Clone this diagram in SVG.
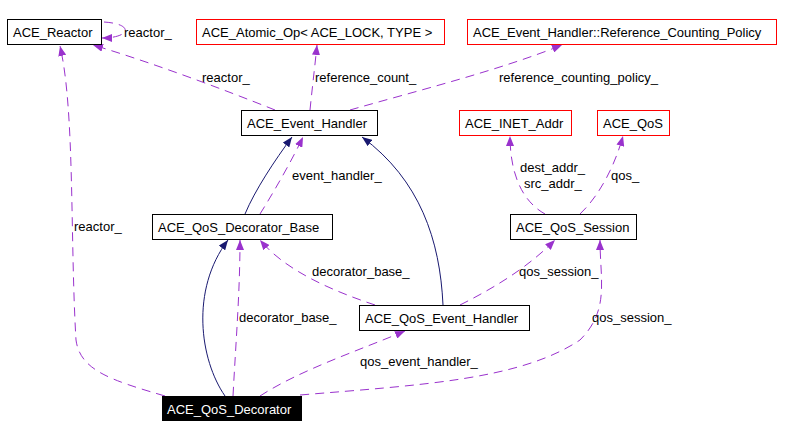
<svg xmlns="http://www.w3.org/2000/svg" width="792" height="438" viewBox="0 0 792 438">
<style>
text{font-family:"Liberation Sans",Arial,sans-serif;font-size:13px;fill:#000}
.n{fill:#fff;stroke:#000;stroke-width:1}
.r{fill:#fff;stroke:#f00;stroke-width:1}
.s{fill:none;stroke:#191970;stroke-width:1}
.d{fill:none;stroke:#9a32cd;stroke-width:1;stroke-dasharray:9,6}
</style>
<defs>
<marker id="an" viewBox="0 0 10 8" refX="10" refY="4" markerWidth="10" markerHeight="8" markerUnits="userSpaceOnUse" orient="auto"><path d="M0,0L10,4L0,8z" fill="#191970"/></marker>
<marker id="ap" viewBox="0 0 10 8" refX="10" refY="4" markerWidth="10" markerHeight="8" markerUnits="userSpaceOnUse" orient="auto"><path d="M0,0L10,4L0,8z" fill="#9a32cd"/></marker>
</defs>
<g id="edges">
<path class="d" marker-end="url(#ap)" d="M104,22 C135,24 130,38 102,38"/>
<text x="124" y="37">reactor_</text>
<path class="d" marker-end="url(#ap)" d="M275,110 C220,88 150,62 93,45"/>
<text x="202" y="82">reactor_</text>
<path class="d" marker-end="url(#ap)" d="M310,110 C312,90 315,65 317,45"/>
<text x="315" y="82">reference_count_</text>
<path class="d" marker-end="url(#ap)" d="M350,110 C420,90 500,70 562,45"/>
<text x="499" y="82">reference_counting_policy_</text>
<path class="s" marker-end="url(#an)" d="M245,214 C255,190 275,160 292,137"/>
<path class="d" marker-end="url(#ap)" d="M260,214 C275,190 292,160 303,137"/>
<text x="292" y="180">event_handler_</text>
<path class="s" marker-end="url(#an)" d="M443,305 C440,240 420,180 362,137"/>
<path class="d" marker-end="url(#ap)" d="M545,214 C520,200 510,170 510,136"/>
<text x="520" y="172">dest_addr_</text>
<text x="524" y="188">src_addr_</text>
<path class="d" marker-end="url(#ap)" d="M580,214 C600,195 615,165 623,136"/>
<text x="611" y="180">qos_</text>
<path class="d" marker-end="url(#ap)" d="M375,305 C330,290 285,270 260,240"/>
<text x="312" y="276">decorator_base_</text>
<path class="d" marker-end="url(#ap)" d="M460,305 C500,285 530,265 555,240"/>
<text x="519" y="276">qos_session_</text>
<path class="s" marker-end="url(#an)" d="M225,396 C200,360 190,290 228,240"/>
<path class="d" marker-end="url(#ap)" d="M233,396 C236,340 240,290 240,240"/>
<text x="239" y="322">decorator_base_</text>
<path class="d" marker-end="url(#ap)" d="M260,396 C300,370 360,350 405,331"/>
<text x="360" y="366">qos_event_handler_</text>
<path class="d" marker-end="url(#ap)" d="M300,395 C420,385 520,380 580,340 C610,310 600,280 600,240"/>
<text x="592" y="322">qos_session_</text>
<path class="d" marker-end="url(#ap)" d="M165,396 C110,380 80,370 76,340 C70,240 75,110 60,46"/>
<text x="74" y="231">reactor_</text>
</g>
<g id="ACE_Reactor"><rect class="n" x="7.5" y="19.5" width="94" height="25"/><text x="13" y="37">ACE_Reactor</text></g>
<g id="ACE_Atomic_Op"><rect class="r" x="196.5" y="19.5" width="248" height="25"/><text x="202" y="37">ACE_Atomic_Op&lt; ACE_LOCK, TYPE &gt;</text></g>
<g id="RCP"><rect class="r" x="467.5" y="19.5" width="309" height="25"/><text x="473" y="37">ACE_Event_Handler::Reference_Counting_Policy</text></g>
<g id="ACE_Event_Handler"><rect class="n" x="241.5" y="110.5" width="136" height="25"/><text x="247" y="128">ACE_Event_Handler</text></g>
<g id="ACE_INET_Addr"><rect class="r" x="459.5" y="110.5" width="112" height="25"/><text x="465" y="128">ACE_INET_Addr</text></g>
<g id="ACE_QoS"><rect class="r" x="597.5" y="110.5" width="72" height="25"/><text x="603" y="128">ACE_QoS</text></g>
<g id="ACE_QoS_Decorator_Base"><rect class="n" x="152.5" y="214.5" width="180" height="25"/><text x="158" y="232">ACE_QoS_Decorator_Base</text></g>
<g id="ACE_QoS_Session"><rect class="n" x="510.5" y="214.5" width="126" height="25"/><text x="516" y="232">ACE_QoS_Session</text></g>
<g id="ACE_QoS_Event_Handler"><rect class="n" x="359.5" y="305.5" width="170" height="25"/><text x="365" y="323">ACE_QoS_Event_Handler</text></g>
<g id="ACE_QoS_Decorator"><rect x="162" y="396" width="140" height="25" fill="#000"/><text x="167" y="414" style="fill:#fff">ACE_QoS_Decorator</text></g>
</svg>
